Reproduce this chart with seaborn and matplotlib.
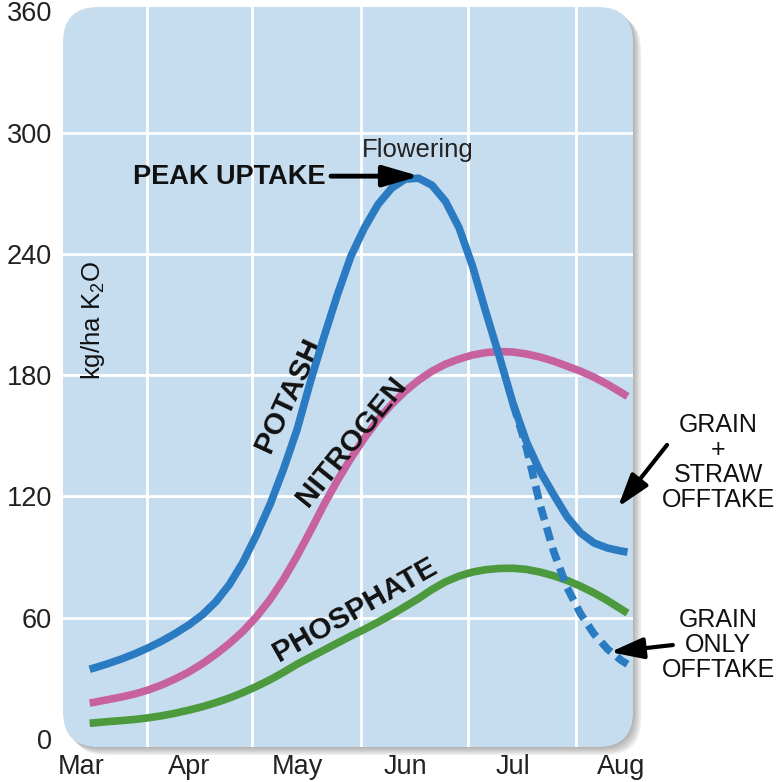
import numpy as np
import pandas as pd
import matplotlib
matplotlib.use("Agg")
import matplotlib.pyplot as plt
import seaborn as sns
from matplotlib.patches import FancyBboxPatch

# Month axis (0 = Mar ... 5 = Aug)
months = ["Mar", "Apr", "May", "Jun", "Jul", "Aug"]
month_pos = [0, 1, 2, 3, 4, 5]
y_ticks = [0, 60, 120, 180, 240, 300, 360]
v_grid = [0.61, 1.58, 2.59, 3.58, 4.58]
h_grid = [60, 120, 180, 240, 300]

# sampling positions along the season (in months after 1 Mar)
season_m = [0.08, 0.125, 0.25, 0.375, 0.5, 0.625, 0.75, 0.875, 1.0, 1.125,
            1.25, 1.375, 1.5, 1.625, 1.75, 1.875, 2.0, 2.125, 2.25, 2.375,
            2.5, 2.625, 2.75, 2.875, 3.0, 3.125, 3.25, 3.375, 3.5, 3.625,
            3.75, 3.875, 4.0, 4.125, 4.25, 4.375, 4.5, 4.625, 4.75, 4.875,
            5.0, 5.06]

# Potash uptake (grain + straw offtake), kg/ha K2O
potash_v = [34.5, 35.2, 37.3, 39.6, 42.2, 45.2, 48.5, 52.3, 56.5, 61.5,
            68, 76.5, 87.5, 101, 116, 133.5, 153, 177, 199, 220,
            239, 253, 264.5, 272.5, 277, 277.5, 274, 266, 253, 234,
            211, 189, 166, 147, 132.5, 121, 110, 102, 97, 94.5,
            93, 92.5]

# Potash, grain-only offtake branch
grain_m = [4.0, 4.125, 4.25, 4.375, 4.5, 4.625, 4.75, 4.875, 5.0, 5.06]
grain_v = [166, 144, 116, 93, 75, 62, 52, 44.5, 39, 37]

# Nitrogen uptake
nitrogen_v = [17.8, 18.2, 19.5, 20.8, 22.3, 24.3, 26.8, 29.8, 33.2, 37.3,
              42, 47.3, 53.3, 60.5, 69, 79, 90.5, 103, 116, 128,
              139, 149, 158, 165.5, 172, 177.5, 182, 185.5, 188, 190,
              191.2, 191.7, 191.5, 190.5, 189, 187, 184.5, 182, 179, 175.5,
              171.5, 169.5]

# Phosphate uptake
phosphate_v = [7.8, 8.0, 8.6, 9.1, 9.7, 10.5, 11.5, 12.8, 14.3, 16.0,
               18.0, 20.3, 23.0, 26.0, 29.3, 33.0, 37.0, 40.5, 44.0, 47.5,
               51.0, 54.3, 57.8, 61.5, 65.5, 69.5, 74.0, 77.8, 80.6, 82.6,
               83.8, 84.4, 84.5, 83.9, 82.6, 80.8, 78.5, 75.6, 72.3, 68.5,
               64.3, 62.3]

BLUE = "#2b7bc2"
PINK = "#c8629f"
GREEN = "#4c9a3d"
PANEL = "#c6ddef"
INK = "#111111"

sns.set_style("white")
plt.rcParams["font.family"] = ["Liberation Sans", "DejaVu Sans"]
plt.rcParams["mathtext.fontset"] = "custom"
plt.rcParams["mathtext.rm"] = "Liberation Sans"

W = 782.0
fig = plt.figure(figsize=(7.82, 7.82), dpi=100)
fig.patch.set_facecolor("white")
ax_box = [63 / W, 35 / W, 570 / W, 740 / W]
ax = fig.add_axes(ax_box)
ax.set_xlim(-0.1667, 5.111)
ax.set_ylim(-3.96, 362.2)
ax.patch.set_visible(False)
for s in ax.spines.values():
    s.set_visible(False)

# rounded panel with a soft drop shadow
for i in range(5):
    off = (i + 1) * 1.6
    sh = FancyBboxPatch((ax_box[0] + off / W, ax_box[1] - off / W), ax_box[2], ax_box[3],
                        boxstyle="round,pad=0,rounding_size=0.045",
                        transform=fig.transFigure, fc="#555555", ec="none",
                        alpha=0.10, zorder=-20)
    fig.patches.append(sh)
panel = FancyBboxPatch((ax_box[0], ax_box[1]), ax_box[2], ax_box[3],
                       boxstyle="round,pad=0,rounding_size=0.045",
                       transform=fig.transFigure, fc=PANEL, ec="none", zorder=-10)
fig.patches.append(panel)

for g in h_grid:
    ax.axhline(g, color="white", lw=2.0, zorder=1)
for g in v_grid:
    ax.axvline(g, color="white", lw=2.0, zorder=1)

ax.set_xticks(month_pos)
ax.set_xticklabels(months)
ax.set_yticks(y_ticks)
ax.set_yticklabels([str(t) for t in y_ticks])
ax.tick_params(axis="both", length=0, labelsize=19.5, colors="#222222")
ax.tick_params(axis="y", pad=8)
ax.tick_params(axis="x", pad=5)

lw = 5.5
curves = pd.DataFrame({"month": season_m, "Potash": potash_v,
                       "Nitrogen": nitrogen_v, "Phosphate": phosphate_v})
sns.lineplot(data=curves, x="month", y="Phosphate", ax=ax, color=GREEN, lw=lw,
             solid_capstyle="butt", solid_joinstyle="round", zorder=3)
sns.lineplot(data=curves, x="month", y="Nitrogen", ax=ax, color=PINK, lw=lw,
             solid_capstyle="butt", solid_joinstyle="round", zorder=3)
sns.lineplot(x=grain_m, y=grain_v, ax=ax, color=BLUE, lw=lw, zorder=4)
ax.lines[-1].set_dashes([1.8, 1.0])
ax.lines[-1].set_dash_capstyle("butt")
sns.lineplot(data=curves, x="month", y="Potash", ax=ax, color=BLUE, lw=lw,
             solid_capstyle="butt", solid_joinstyle="round", zorder=4)
ax.set_xlabel("")
ax.set_ylabel("")

# axis title inside the panel
ax.text(0.111, 207, "kg/ha K$_{\\mathregular{2}}$O", rotation=90, ha="center",
        va="center", fontsize=18.5, color=INK)

# curve labels
lab = dict(rotation_mode="anchor", ha="center", va="center", fontsize=21.5,
           fontweight="bold", color=INK)
ax.text(1.92, 170, "POTASH", rotation=65, **lab)
ax.text(2.50, 147, "NITROGEN", rotation=51, **lab)
ax.text(2.54, 64, "PHOSPHATE", rotation=29.5, **lab)

# peak uptake marker
ipk = int(np.argmax(potash_v))
pk_m, pk_v = season_m[ipk], potash_v[ipk]
ax.annotate("", xy=(pk_m + 0.01, pk_v + 1), xytext=(pk_m - 0.81, pk_v + 1),
            arrowprops=dict(arrowstyle="-|>,head_length=1.1,head_width=0.32",
                            mutation_scale=20, color="black", lw=3.5,
                            shrinkA=0, shrinkB=0), zorder=6)
ax.text(pk_m - 0.86, pk_v + 0.5, "PEAK UPTAKE", ha="right", va="center",
        fontsize=19.5, fontweight="bold", color=INK)
ax.text(3.12, 291.5, "Flowering", ha="center", va="center", fontsize=18.5,
        color="#222222")

# offtake notes on the right
ax.annotate("", xy=(4.972, 114.8), xytext=(5.426, 145.5),
            arrowprops=dict(arrowstyle="-|>,head_length=1.0,head_width=0.32",
                            mutation_scale=20, color="black", lw=3.0,
                            shrinkA=0, shrinkB=0),
            annotation_clip=False, zorder=6)
ax.text(5.90, 137, "GRAIN\n+\nSTRAW\nOFFTAKE", ha="center", va="center",
        fontsize=18, linespacing=1.05, color=INK)
ax.annotate("", xy=(4.90, 43), xytext=(5.48, 46.5),
            arrowprops=dict(arrowstyle="-|>,head_length=1.0,head_width=0.32",
                            mutation_scale=20, color="black", lw=3.0,
                            shrinkA=0, shrinkB=0),
            annotation_clip=False, zorder=6)
ax.text(5.90, 46.5, "GRAIN\nONLY\nOFFTAKE", ha="center", va="center",
        fontsize=18, linespacing=1.05, color=INK)

fig.savefig("out.png", dpi=100)
